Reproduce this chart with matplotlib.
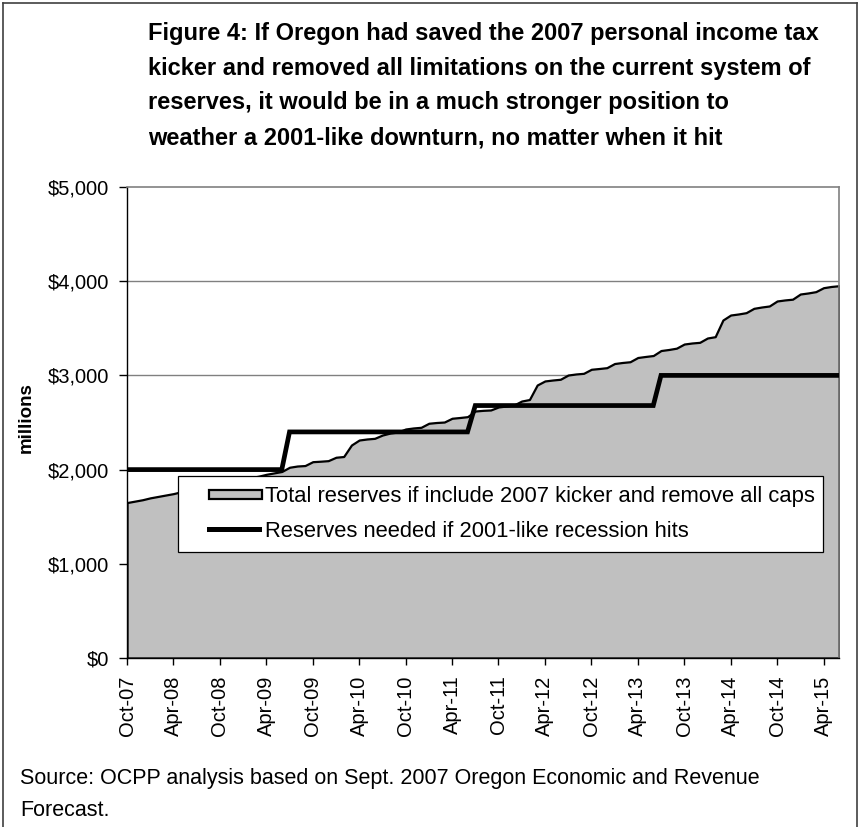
import matplotlib
matplotlib.use("Agg")
import matplotlib.pyplot as plt
from matplotlib.lines import Line2D
from matplotlib.patches import Patch, Rectangle
from matplotlib.legend_handler import HandlerPatch
import numpy as np

plt.rcParams['font.family'] = ['Liberation Sans', 'DejaVu Sans']

# Monthly series, Oct-07 .. Jun-15
months = ["Oct-07", "Nov-07", "Dec-07", "Jan-08", "Feb-08", "Mar-08", "Apr-08", "May-08", "Jun-08", "Jul-08",
          "Aug-08", "Sep-08", "Oct-08", "Nov-08", "Dec-08", "Jan-09", "Feb-09", "Mar-09", "Apr-09", "May-09",
          "Jun-09", "Jul-09", "Aug-09", "Sep-09", "Oct-09", "Nov-09", "Dec-09", "Jan-10", "Feb-10", "Mar-10",
          "Apr-10", "May-10", "Jun-10", "Jul-10", "Aug-10", "Sep-10", "Oct-10", "Nov-10", "Dec-10", "Jan-11",
          "Feb-11", "Mar-11", "Apr-11", "May-11", "Jun-11", "Jul-11", "Aug-11", "Sep-11", "Oct-11", "Nov-11",
          "Dec-11", "Jan-12", "Feb-12", "Mar-12", "Apr-12", "May-12", "Jun-12", "Jul-12", "Aug-12", "Sep-12",
          "Oct-12", "Nov-12", "Dec-12", "Jan-13", "Feb-13", "Mar-13", "Apr-13", "May-13", "Jun-13", "Jul-13",
          "Aug-13", "Sep-13", "Oct-13", "Nov-13", "Dec-13", "Jan-14", "Feb-14", "Mar-14", "Apr-14", "May-14",
          "Jun-14", "Jul-14", "Aug-14", "Sep-14", "Oct-14", "Nov-14", "Dec-14", "Jan-15", "Feb-15", "Mar-15",
          "Apr-15", "May-15", "Jun-15"]

total_reserves = [1650, 1665, 1680, 1700, 1715, 1730, 1745, 1765, 1780, 1800,
                  1815, 1830, 1850, 1865, 1880, 1900, 1915, 1930, 1950, 1965,
                  1980, 2025, 2038, 2043, 2084, 2089, 2095, 2131, 2139, 2261,
                  2314, 2325, 2332, 2367, 2388, 2399, 2431, 2442, 2449, 2492,
                  2500, 2505, 2545, 2553, 2562, 2622, 2629, 2633, 2665, 2675,
                  2686, 2728, 2744, 2898, 2941, 2951, 2959, 3004, 3015, 3022,
                  3065, 3073, 3082, 3126, 3137, 3145, 3190, 3201, 3211, 3264,
                  3275, 3289, 3333, 3344, 3351, 3397, 3411, 3588, 3641, 3652,
                  3666, 3712, 3726, 3737, 3790, 3801, 3809, 3864, 3875, 3889,
                  3931, 3944, 3952]

reserves_needed = [2000] * 21 + [2400] * 24 + [2680] * 24 + [3000] * 24

yticks = [0, 1000, 2000, 3000, 4000, 5000]
ytick_labels = ["$0", "$1,000", "$2,000", "$3,000", "$4,000", "$5,000"]

label_area = "Total reserves if include 2007 kicker and remove all caps"
label_line = "Reserves needed if 2001-like recession hits"

W, H = 861, 827
fig = plt.figure(figsize=(W / 100, H / 100), dpi=100)
ax = fig.add_axes([127 / W, 1 - 658 / H, (839 - 127) / W, (658 - 187) / H])

x = np.arange(len(months))
ax.fill_between(x, 0, total_reserves, facecolor="#C0C0C0", edgecolor="black",
                linewidth=1.6, zorder=2)
ax.plot(x, reserves_needed, color="black", linewidth=3.4, zorder=3,
        solid_joinstyle="miter")

TICK_FS = 14.5
ax.set_xlim(0, len(months) - 1)
ax.set_ylim(0, 5000)
ax.set_yticks(yticks)
ax.set_yticklabels(ytick_labels, fontsize=TICK_FS)
xt = list(range(0, len(months), 6))
ax.set_xticks(xt)
ax.set_xticklabels([months[i] for i in xt], rotation=90, fontsize=TICK_FS)
ax.tick_params(axis="both", direction="out", width=1, color="black")
ax.tick_params(axis="y", length=6, pad=7)
ax.tick_params(axis="x", length=5, pad=7.5)

for yv in yticks[1:-1]:
    ax.axhline(yv, color="#808080", linewidth=1.0, zorder=1)

for s in ["top", "right"]:
    ax.spines[s].set_color("#808080")
    ax.spines[s].set_linewidth(1.2)
ax.spines["left"].set_color("black")
ax.spines["bottom"].set_color("black")
ax.spines["left"].set_linewidth(1.0)
ax.spines["bottom"].set_linewidth(1.0)

ax.set_ylabel("millions", fontsize=13.5, fontweight="bold")
ax.yaxis.set_label_coords(-0.129, 0.51)

LEG_FS = 15.8
PT_PER_PX = 0.72


def make_patch(legend, orig_handle, xdescent, ydescent, width, height, fontsize):
    w = 53 * PT_PER_PX
    h = 6.5
    return Rectangle((-xdescent + width - w, -ydescent + height / 2 - h / 2), w, h)


def make_line(legend, orig_handle, xdescent, ydescent, width, height, fontsize):
    w = 55 * PT_PER_PX
    h = 3.0
    return Rectangle((-xdescent + width - w, -ydescent + height / 2 - h / 2), w, h)


area_handle = Patch(facecolor="#C0C0C0", edgecolor="black", linewidth=1.6)
line_handle = Patch(facecolor="black", edgecolor="none")
leg = ax.legend([area_handle, line_handle], [label_area, label_line], loc="lower left",
                bbox_to_anchor=((178 - 127) / 712, (658 - 552) / 471, (823 - 178) / 712, 0.15),
                mode="expand", borderaxespad=0, fontsize=LEG_FS, fancybox=False,
                edgecolor="black", framealpha=1, handlelength=74 * PT_PER_PX / LEG_FS,
                handletextpad=0.12, labelspacing=0.63, borderpad=0.45,
                handler_map={area_handle: HandlerPatch(patch_func=make_patch),
                             line_handle: HandlerPatch(patch_func=make_line)})
leg.get_frame().set_linewidth(0.9)

title = ("Figure 4: If Oregon had saved the 2007 personal income tax\n"
         "kicker and removed all limitations on the current system of\n"
         "reserves, it would be in a much stronger position to\n"
         "weather a 2001-like downturn, no matter when it hit")
fig.text(148 / W, 1 - 22 / H, title, fontsize=17, fontweight="bold",
         ha="left", va="top", linespacing=1.65)

fig.text(20 / W, 1 - 768 / H,
         "Source: OCPP analysis based on Sept. 2007 Oregon Economic and Revenue\nForecast.",
         fontsize=15.5, ha="left", va="top", linespacing=1.68)

# outer figure frame
for coords in [([3 / W, 3 / W], [0, 1 - 3 / H]),
               ([3 / W, 857 / W], [1 - 3 / H, 1 - 3 / H]),
               ([857 / W, 857 / W], [1 - 3 / H, 0])]:
    fig.add_artist(Line2D(coords[0], coords[1], color="#404040", linewidth=1.2,
                          transform=fig.transFigure))

fig.savefig("out.png", dpi=100)
